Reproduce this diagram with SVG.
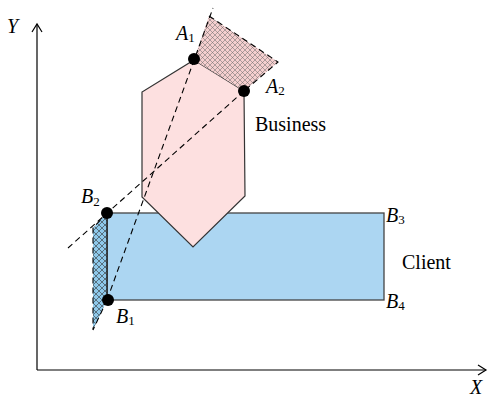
<svg xmlns="http://www.w3.org/2000/svg" width="488" height="398" viewBox="0 0 488 398">
<style>
text{font-family:"Liberation Serif","DejaVu Serif",serif;font-size:20px;fill:#000}
.it{font-style:italic}
.sub{font-size:13px;font-style:normal}
.dash{fill:none;stroke:#000;stroke-width:1.1;stroke-dasharray:6,4}
.axis{fill:none;stroke:#000;stroke-width:1.2}
.pt{fill:#000}
</style>
<defs>
<pattern id="hatchPink" width="5" height="5" patternUnits="userSpaceOnUse">
<rect width="5" height="5" fill="#f5cfcf"/>
<path d="M0,0L5,5M5,0L0,5" stroke="#666" stroke-width="0.5"/>
</pattern>
<pattern id="hatchBlue" width="6" height="6" patternUnits="userSpaceOnUse">
<rect width="6" height="6" fill="#8ec8ea"/>
<path d="M0,0L6,6M6,0L0,6" stroke="#333" stroke-width="0.6"/>
</pattern>
<marker id="arr" markerWidth="12" markerHeight="12" refX="9" refY="6" orient="auto" markerUnits="userSpaceOnUse">
<path d="M1,1L9,6L1,11" fill="none" stroke="#000" stroke-width="1.2"/>
</marker>
</defs>
<g id="axes">
<line class="axis" x1="37" y1="370" x2="37" y2="24" marker-end="url(#arr)"/>
<line class="axis" x1="37" y1="370" x2="486" y2="370" marker-end="url(#arr)"/>
<text class="it" x="7" y="33">Y</text>
<text class="it" x="470" y="394">X</text>
</g>
<g id="client">
<rect x="107" y="213" width="277" height="87" fill="#acd6f2" stroke="#444" stroke-width="1.3"/>
<text x="402" y="269">Client</text>
</g>
<g id="business">
<polygon points="194,60 244,91 245,196 193,247 142,197 142,92" fill="#fde0e0" stroke="#333" stroke-width="1.2"/>
<text x="255" y="131">Business</text>
</g>
<g id="hatchA">
<polygon points="194,60 209,16 278,62 244,91" fill="url(#hatchPink)"/>
<polyline class="dash" points="209,16 278,62 244,91"/>
</g>
<g id="hatchB">
<polygon points="107,213 93,228 93,330 107,300" fill="url(#hatchBlue)"/>
<polyline class="dash" points="107,213 93,228 93,330 107,300"/>
<line x1="107" y1="213" x2="107" y2="300" stroke="#222" stroke-width="1.5"/>
</g>
<g id="connectors">
<line class="dash" x1="107" y1="300" x2="213" y2="8"/>
<line class="dash" x1="244" y1="91" x2="68" y2="248"/>
</g>
<g id="points">
<circle class="pt" cx="194" cy="59" r="6"/>
<circle class="pt" cx="244" cy="91" r="6"/>
<circle class="pt" cx="107" cy="213" r="6"/>
<circle class="pt" cx="108" cy="300" r="6"/>
</g>
<g id="labels">
<text class="it" x="176" y="40">A<tspan class="sub" dy="2">1</tspan></text>
<text class="it" x="266" y="93">A<tspan class="sub" dy="2">2</tspan></text>
<text class="it" x="81" y="203">B<tspan class="sub" dy="3">2</tspan></text>
<text class="it" x="116" y="323">B<tspan class="sub" dy="2">1</tspan></text>
<text class="it" x="386" y="222">B<tspan class="sub" dy="2">3</tspan></text>
<text class="it" x="386" y="308">B<tspan class="sub" dy="2">4</tspan></text>
</g>
</svg>
